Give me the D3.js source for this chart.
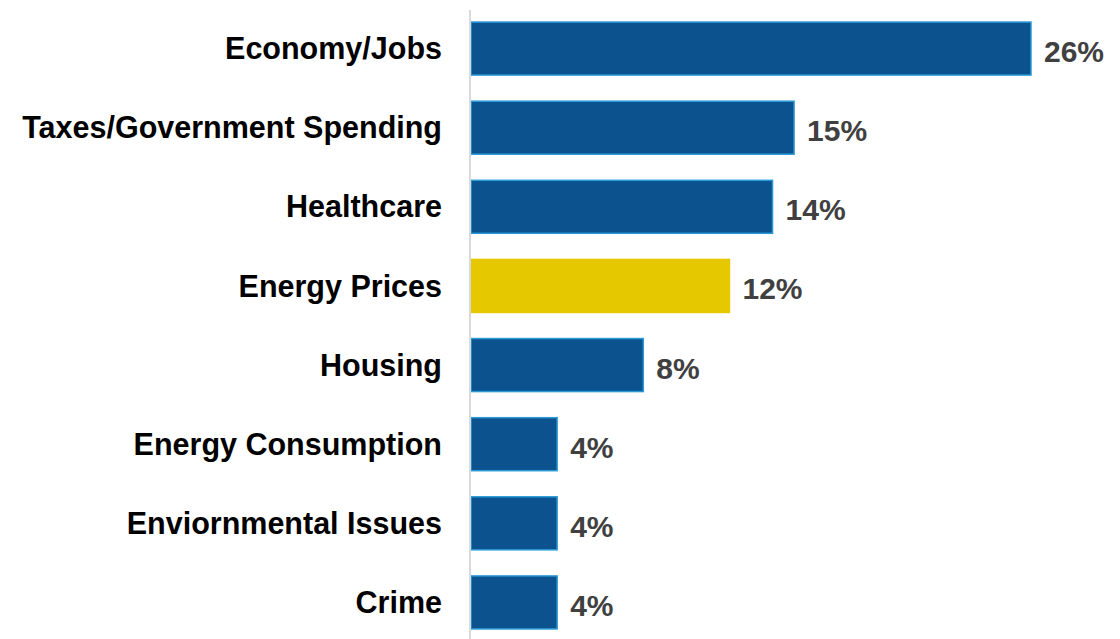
<!DOCTYPE html>
<html>
<head>
<meta charset="utf-8">
<script src="https://cdn.jsdelivr.net/npm/d3@7/dist/d3.min.js"></script>
<style>
  html, body { margin: 0; padding: 0; background: #ffffff; }
  svg { display: block; }
</style>
</head>
<body>
<svg id="chart" width="1120" height="639"></svg>
<script>
// Top issues, share of respondents (%)
const categories = [
  "Economy/Jobs",
  "Taxes/Government Spending",
  "Healthcare",
  "Energy Prices",
  "Housing",
  "Energy Consumption",
  "Enviornmental Issues",
  "Crime"
];
const values = [26, 15, 14, 12, 8, 4, 4, 4];
const highlighted = ["Energy Prices"];

const width = 1120, height = 639;
const margin = { top: 9, right: 0, bottom: -3, left: 471 };

const svg = d3.select("#chart");

const x = d3.scaleLinear()
  .domain([0, 26])
  .range([margin.left, 1031]);

const y = d3.scaleBand()
  .domain(categories)
  .range([margin.top, height - margin.bottom])
  .paddingInner(0.33)
  .paddingOuter(0.165);

const data = categories.map((c, i) => ({ cat: c, val: values[i] }));

// bars
svg.append("g")
  .selectAll("rect")
  .data(data)
  .join("rect")
  .attr("x", x(0))
  .attr("y", d => y(d.cat))
  .attr("width", d => x(d.val) - x(0))
  .attr("height", y.bandwidth())
  .attr("fill", d => highlighted.includes(d.cat) ? "#e6c800" : "#0b528f")
  .attr("stroke", d => highlighted.includes(d.cat) ? "#e6c800" : "#2a9ad6")
  .attr("stroke-width", 1.5);

// category axis line
svg.append("line")
  .attr("x1", 470).attr("x2", 470)
  .attr("y1", 10).attr("y2", height)
  .attr("stroke", "#d9d9d9")
  .attr("stroke-width", 2);

// category labels
svg.append("g")
  .selectAll("text")
  .data(data)
  .join("text")
  .attr("x", 442)
  .attr("y", d => y(d.cat) + y.bandwidth() / 2)
  .attr("dy", "0.35em")
  .attr("text-anchor", "end")
  .attr("font-family", "Liberation Sans, Arial, sans-serif")
  .attr("font-weight", "bold")
  .attr("font-size", 30.5)
  .attr("fill", "#000000")
  .text(d => d.cat);

// value labels
svg.append("g")
  .selectAll("text")
  .data(data)
  .join("text")
  .attr("x", d => x(d.val) + 13)
  .attr("y", d => y(d.cat) + y.bandwidth() / 2 + 3)
  .attr("dy", "0.35em")
  .attr("font-family", "Liberation Sans, Arial, sans-serif")
  .attr("font-weight", "bold")
  .attr("font-size", 30)
  .attr("fill", "#404040")
  .text(d => d.val + "%");
</script>
</body>
</html>
